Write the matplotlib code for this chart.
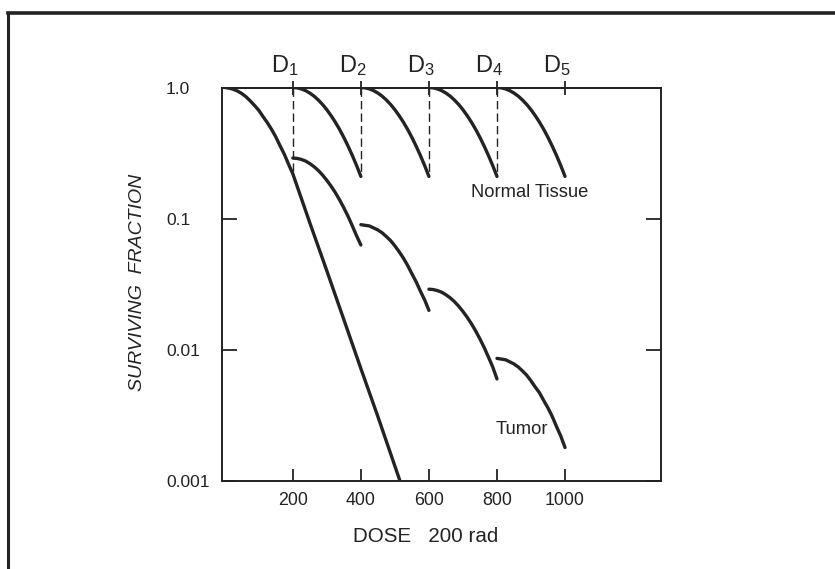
import matplotlib
matplotlib.use("Agg")
import matplotlib.pyplot as plt
from matplotlib.lines import Line2D
from matplotlib.ticker import NullLocator

plt.rcParams['font.family'] = ['Liberation Sans', 'DejaVu Sans']
plt.rcParams['mathtext.fontset'] = 'custom'
plt.rcParams['mathtext.rm'] = 'Liberation Sans'
plt.rcParams['mathtext.default'] = 'regular'

ink = '#232323'

# dose offsets inside one 200 rad fraction
frac_offset = [0, 12.5, 25, 37.5, 50, 62.5, 75, 87.5, 100,
               112.5, 125, 137.5, 150, 162.5, 175, 187.5, 200]

# normal tissue: every fraction starts again at 1.0
normal_starts = [200, 400, 600, 800]
normal_sf = [1.0, 0.994, 0.976, 0.947, 0.907, 0.859, 0.803, 0.742, 0.677,
             0.610, 0.544, 0.479, 0.416, 0.357, 0.303, 0.254, 0.21]

# tumor, single large dose (first 200 rad shared with normal tissue)
tumor_dose = [0, 12.5, 25, 37.5, 50, 62.5, 75, 87.5, 100, 112.5, 125,
              137.5, 150, 162.5, 175, 187.5, 200, 250, 300, 350, 400, 450, 515]
tumor_sf = [1.0, 0.99, 0.97, 0.94, 0.90, 0.85, 0.79, 0.73, 0.67, 0.60, 0.54,
            0.48, 0.42, 0.36, 0.31, 0.26, 0.22,
            0.093, 0.040, 0.017, 0.0072, 0.0031, 0.001]

# tumor, fractionated
tumor_frac_starts = [200, 400, 600, 800]
tumor_frac_sf = [
    [0.29, 0.288, 0.283, 0.275, 0.263, 0.249, 0.233, 0.215, 0.196,
     0.177, 0.158, 0.139, 0.121, 0.104, 0.088, 0.074, 0.063],
    [0.090, 0.089, 0.088, 0.085, 0.082, 0.078, 0.073, 0.068, 0.062,
     0.056, 0.050, 0.044, 0.038, 0.033, 0.028, 0.024, 0.020],
    [0.029, 0.0288, 0.0283, 0.0275, 0.0263, 0.0249, 0.0233, 0.0215, 0.0196,
     0.0177, 0.0158, 0.0139, 0.0121, 0.0104, 0.0088, 0.0074, 0.0060],
    [0.0086, 0.0085, 0.0084, 0.0081, 0.0078, 0.0074, 0.0069, 0.0064, 0.0058,
     0.0052, 0.0047, 0.0041, 0.0036, 0.0031, 0.0026, 0.0022, 0.0018],
]

x_ticks = [200, 400, 600, 800, 1000]
x_labels = ['200', '400', '600', '800', '1000']
y_ticks = [0.001, 0.01, 0.1, 1.0]
y_labels = ['0.001', '0.01', '0.1', '1.0']
d_labels = ['D$_1$', 'D$_2$', 'D$_3$', 'D$_4$', 'D$_5$']

fig = plt.figure(figsize=(8.35, 5.69), dpi=100)
ax = fig.add_axes([0.2659, 0.1547, 0.5257, 0.6915])
ax.set_yscale('log')
ax.set_xlim(-8, 1282)
ax.set_ylim(0.001, 1.0)

lw = 2.4
for s in normal_starts:
    ax.plot([s + o for o in frac_offset], normal_sf, color=ink, lw=lw,
            solid_capstyle='round')
    # dashed drop line at the start of each fraction
    ax.plot([s, s], [1.0, normal_sf[-1]], color=ink, lw=1.0, dashes=(6, 3))

ax.plot(tumor_dose, tumor_sf, color=ink, lw=lw, solid_capstyle='round')
for s, seg in zip(tumor_frac_starts, tumor_frac_sf):
    ax.plot([s + o for o in frac_offset], seg, color=ink, lw=lw,
            solid_capstyle='round')

ax.text(723, 0.157, 'Normal Tissue', fontsize=13.2, color=ink,
        ha='left', va='center')
ax.text(797, 0.00248, 'Tumor', fontsize=13.2, color=ink,
        ha='left', va='center')

for x, lab in zip(x_ticks, d_labels):
    ax.text(x - 24, 1.039, lab, fontsize=17, color=ink, ha='center',
            va='baseline', transform=ax.get_xaxis_transform())

ax.set_xticks(x_ticks)
ax.set_xticklabels(x_labels)
ax.set_yticks(y_ticks)
ax.set_yticklabels(y_labels)
ax.yaxis.set_minor_locator(NullLocator())
ax.tick_params(axis='x', direction='in', length=9, width=1.3, pad=8,
               labelsize=12.8, colors=ink)
ax.tick_params(axis='y', direction='in', length=11, width=1.3, pad=40.3,
               labelsize=12.5, colors=ink, right=True)
for lab in ax.get_yticklabels():
    lab.set_horizontalalignment('left')
for sp in ax.spines.values():
    sp.set_linewidth(1.4)
    sp.set_color(ink)

top = ax.secondary_xaxis('top')
top.set_xticks(x_ticks)
top.set_xticklabels([])
top.tick_params(direction='inout', length=10, width=1.3, colors=ink)
top.spines['top'].set_linewidth(1.4)
top.spines['top'].set_color(ink)

fig.text(426 / 835, 0.047, 'DOSE   200 rad', fontsize=14.8, color=ink,
         ha='center', va='baseline')
fig.text(138 / 835, 0.504, 'SURVIVING  FRACTION', fontsize=14, color=ink,
         style='italic', rotation=90, ha='center', va='center')

# border of the scanned figure
fig.add_artist(Line2D([0.0096, 1.0], [0.9777, 0.9777],
                      transform=fig.transFigure, lw=2.6, color=ink))
fig.add_artist(Line2D([0.0096, 0.0096], [0.0, 0.9777],
                      transform=fig.transFigure, lw=2.2, color=ink))

fig.savefig('out.png', dpi=100)
